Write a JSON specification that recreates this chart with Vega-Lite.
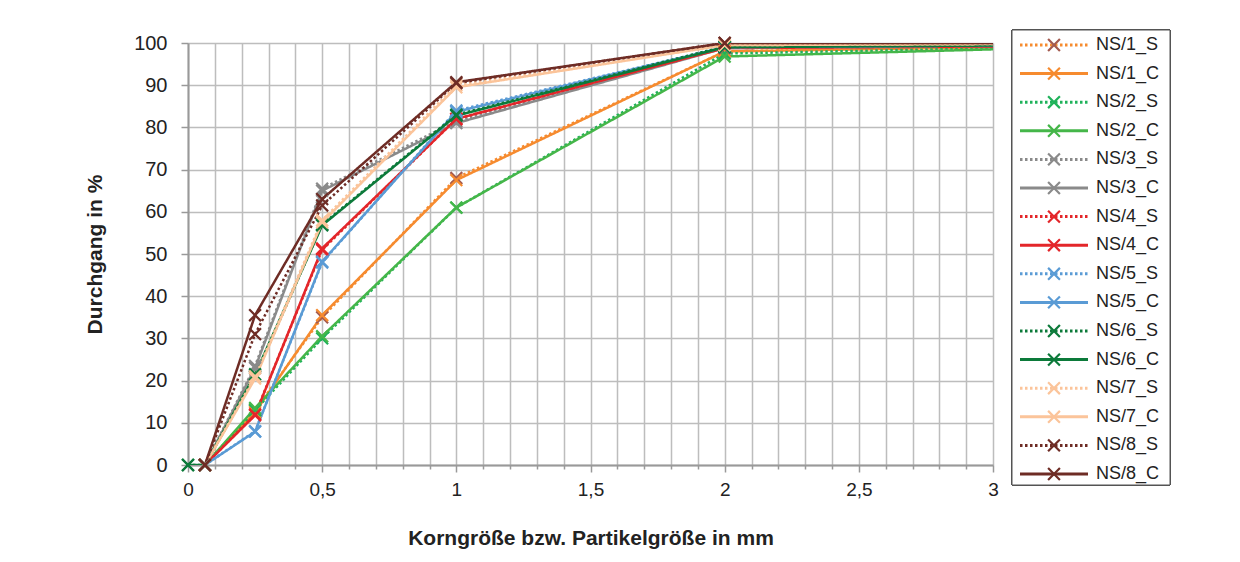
{
  "$schema": "https://vega.github.io/schema/vega-lite/v6.json",
  "width": 805,
  "height": 422,
  "autosize": {"type": "none"},
  "padding": {"left": 188, "top": 43, "right": 247, "bottom": 97},
  "background": "white",
  "config": {
    "view": {"stroke": null},
    "font": "Liberation Sans",
    "axis": {
      "labelFont": "Liberation Sans",
      "labelFontSize": 19.5,
      "labelColor": "#222222",
      "titleFont": "Liberation Sans",
      "titleFontSize": 21,
      "titleFontWeight": "bold",
      "titleColor": "#222222",
      "domainColor": "#999999",
      "domainWidth": 2,
      "tickColor": "#999999",
      "tickWidth": 1.5,
      "gridColor": "#BDBDBD",
      "gridWidth": 1.5,
      "gridOpacity": 1
    }
  },
  "datasets": {
    "sieve": [
      {"series": "NS/1_S", "x": 0.063, "y": 0}, {"series": "NS/1_S", "x": 0.25, "y": 13}, {"series": "NS/1_S", "x": 0.5, "y": 35}, {"series": "NS/1_S", "x": 1, "y": 68}, {"series": "NS/1_S", "x": 2, "y": 98}, {"series": "NS/1_S", "x": 4, "y": 100},
      {"series": "NS/1_C", "x": 0.063, "y": 0}, {"series": "NS/1_C", "x": 0.25, "y": 12.5}, {"series": "NS/1_C", "x": 0.5, "y": 35.5}, {"series": "NS/1_C", "x": 1, "y": 67.5}, {"series": "NS/1_C", "x": 2, "y": 98}, {"series": "NS/1_C", "x": 4, "y": 100},
      {"series": "NS/2_S", "x": 0.063, "y": 0}, {"series": "NS/2_S", "x": 0.25, "y": 13}, {"series": "NS/2_S", "x": 0.5, "y": 30}, {"series": "NS/2_S", "x": 1, "y": 61}, {"series": "NS/2_S", "x": 2, "y": 97.5}, {"series": "NS/2_S", "x": 4, "y": 100},
      {"series": "NS/2_C", "x": 0.063, "y": 0}, {"series": "NS/2_C", "x": 0.25, "y": 13.5}, {"series": "NS/2_C", "x": 0.5, "y": 30.5}, {"series": "NS/2_C", "x": 1, "y": 61}, {"series": "NS/2_C", "x": 2, "y": 96.8}, {"series": "NS/2_C", "x": 4, "y": 100.2},
      {"series": "NS/3_S", "x": 0.063, "y": 0}, {"series": "NS/3_S", "x": 0.25, "y": 23.5}, {"series": "NS/3_S", "x": 0.5, "y": 65.5}, {"series": "NS/3_S", "x": 1, "y": 81.5}, {"series": "NS/3_S", "x": 2, "y": 99}, {"series": "NS/3_S", "x": 4, "y": 99.8},
      {"series": "NS/3_C", "x": 0.063, "y": 0}, {"series": "NS/3_C", "x": 0.25, "y": 23}, {"series": "NS/3_C", "x": 0.5, "y": 65}, {"series": "NS/3_C", "x": 1, "y": 81}, {"series": "NS/3_C", "x": 2, "y": 98.8}, {"series": "NS/3_C", "x": 4, "y": 99.6},
      {"series": "NS/4_S", "x": 0.063, "y": 0}, {"series": "NS/4_S", "x": 0.25, "y": 12}, {"series": "NS/4_S", "x": 0.5, "y": 51}, {"series": "NS/4_S", "x": 1, "y": 82}, {"series": "NS/4_S", "x": 2, "y": 99}, {"series": "NS/4_S", "x": 4, "y": 99.8},
      {"series": "NS/4_C", "x": 0.063, "y": 0}, {"series": "NS/4_C", "x": 0.25, "y": 11.8}, {"series": "NS/4_C", "x": 0.5, "y": 51.3}, {"series": "NS/4_C", "x": 1, "y": 82}, {"series": "NS/4_C", "x": 2, "y": 98.8}, {"series": "NS/4_C", "x": 4, "y": 99.6},
      {"series": "NS/5_S", "x": 0.063, "y": 0}, {"series": "NS/5_S", "x": 0.25, "y": 8}, {"series": "NS/5_S", "x": 0.5, "y": 48}, {"series": "NS/5_S", "x": 1, "y": 84}, {"series": "NS/5_S", "x": 2, "y": 99}, {"series": "NS/5_S", "x": 4, "y": 99.8},
      {"series": "NS/5_C", "x": 0.063, "y": 0}, {"series": "NS/5_C", "x": 0.25, "y": 7.9}, {"series": "NS/5_C", "x": 0.5, "y": 48.2}, {"series": "NS/5_C", "x": 1, "y": 83.7}, {"series": "NS/5_C", "x": 2, "y": 99}, {"series": "NS/5_C", "x": 4, "y": 99.8},
      {"series": "NS/6_S", "x": 0, "y": 0}, {"series": "NS/6_S", "x": 0.063, "y": 0}, {"series": "NS/6_S", "x": 0.25, "y": 21}, {"series": "NS/6_S", "x": 0.5, "y": 57}, {"series": "NS/6_S", "x": 1, "y": 83}, {"series": "NS/6_S", "x": 2, "y": 99.2}, {"series": "NS/6_S", "x": 4, "y": 99.8},
      {"series": "NS/6_C", "x": 0, "y": 0}, {"series": "NS/6_C", "x": 0.063, "y": 0}, {"series": "NS/6_C", "x": 0.25, "y": 21.5}, {"series": "NS/6_C", "x": 0.5, "y": 56.8}, {"series": "NS/6_C", "x": 1, "y": 82.8}, {"series": "NS/6_C", "x": 2, "y": 99}, {"series": "NS/6_C", "x": 4, "y": 99.8},
      {"series": "NS/7_S", "x": 0.063, "y": 0}, {"series": "NS/7_S", "x": 0.25, "y": 21}, {"series": "NS/7_S", "x": 0.5, "y": 58}, {"series": "NS/7_S", "x": 1, "y": 90}, {"series": "NS/7_S", "x": 2, "y": 99.5}, {"series": "NS/7_S", "x": 4, "y": 100},
      {"series": "NS/7_C", "x": 0.063, "y": 0}, {"series": "NS/7_C", "x": 0.25, "y": 20.5}, {"series": "NS/7_C", "x": 0.5, "y": 57.5}, {"series": "NS/7_C", "x": 1, "y": 89.5}, {"series": "NS/7_C", "x": 2, "y": 99.5}, {"series": "NS/7_C", "x": 4, "y": 100},
      {"series": "NS/8_S", "x": 0.063, "y": 0}, {"series": "NS/8_S", "x": 0.25, "y": 31}, {"series": "NS/8_S", "x": 0.5, "y": 61.5}, {"series": "NS/8_S", "x": 1, "y": 90.5}, {"series": "NS/8_S", "x": 2, "y": 100}, {"series": "NS/8_S", "x": 4, "y": 100},
      {"series": "NS/8_C", "x": 0.063, "y": 0}, {"series": "NS/8_C", "x": 0.25, "y": 35.5}, {"series": "NS/8_C", "x": 0.5, "y": 63}, {"series": "NS/8_C", "x": 1, "y": 90.7}, {"series": "NS/8_C", "x": 2, "y": 100}, {"series": "NS/8_C", "x": 4, "y": 100}
    ],
    "names": [
      {"series": "NS/1_S"}, {"series": "NS/1_C"}, {"series": "NS/2_S"}, {"series": "NS/2_C"},
      {"series": "NS/3_S"}, {"series": "NS/3_C"}, {"series": "NS/4_S"}, {"series": "NS/4_C"},
      {"series": "NS/5_S"}, {"series": "NS/5_C"}, {"series": "NS/6_S"}, {"series": "NS/6_C"},
      {"series": "NS/7_S"}, {"series": "NS/7_C"}, {"series": "NS/8_S"}, {"series": "NS/8_C"}
    ]
  },
  "layer": [
    {
      "data": {"name": "sieve"},
      "layer": [
        {
          "mark": {"type": "line", "strokeWidth": 2.5, "clip": true, "strokeCap": "butt"},
          "encoding": {
            "x": {
              "field": "x", "type": "quantitative",
              "scale": {"domain": [0, 3], "nice": false, "zero": false},
              "axis": {
                "title": "Korngröße bzw. Partikelgröße in mm",
                "values": [0, 0.1, 0.2, 0.3, 0.4, 0.5, 0.6, 0.7, 0.8, 0.9, 1, 1.1, 1.2, 1.3, 1.4, 1.5, 1.6, 1.7, 1.8, 1.9, 2, 2.1, 2.2, 2.3, 2.4, 2.5, 2.6, 2.7, 2.8, 2.9, 3],
                "tickCount": 200,
                "labelExpr": "((datum.value * 2) % 1 == 0) ? replace(toString(datum.value), '.', ',') : ''",
                "tickSize": {"condition": {"test": "(datum.value * 2) % 1 == 0", "value": 7}, "value": 4},
                "labelFontSize": 19,
                "labelPadding": 8,
                "titlePadding": 28,
                "labelFlush": false,
                "labelOverlap": false
              }
            },
            "y": {
              "field": "y", "type": "quantitative",
              "scale": {"domain": [0, 100], "nice": false},
              "axis": {
                "title": "Durchgang in %",
                "values": [0, 10, 20, 30, 40, 50, 60, 70, 80, 90, 100],
                "tickCount": 200,
                "format": "d",
                "labelFontSize": 20,
                "tickSize": 7,
                "labelPadding": 14,
                "titlePadding": 28
              }
            },
            "color": {
              "field": "series", "type": "nominal", "legend": null,
              "scale": {
                "domain": ["NS/1_S", "NS/1_C", "NS/2_S", "NS/2_C", "NS/3_S", "NS/3_C", "NS/4_S", "NS/4_C", "NS/5_S", "NS/5_C", "NS/6_S", "NS/6_C", "NS/7_S", "NS/7_C", "NS/8_S", "NS/8_C"],
                "range": ["#F68B2F", "#F68B2F", "#1FB25A", "#45B649", "#8A8A8A", "#8A8A8A", "#E3262A", "#E3262A", "#5A9BD5", "#5A9BD5", "#0C7A3A", "#0C7A3A", "#FBC49A", "#FBC49A", "#6E2C25", "#6E2C25"]
              }
            },
            "strokeDash": {
              "field": "series", "type": "nominal", "legend": null,
              "scale": {
                "domain": ["NS/1_S", "NS/1_C", "NS/2_S", "NS/2_C", "NS/3_S", "NS/3_C", "NS/4_S", "NS/4_C", "NS/5_S", "NS/5_C", "NS/6_S", "NS/6_C", "NS/7_S", "NS/7_C", "NS/8_S", "NS/8_C"],
                "range": [[2.5, 2.5], [1, 0], [2.5, 2.5], [1, 0], [2.5, 2.5], [1, 0], [2.5, 2.5], [1, 0], [2.5, 2.5], [1, 0], [2.5, 2.5], [1, 0], [2.5, 2.5], [1, 0], [2.5, 2.5], [1, 0]]
              }
            }
          }
        },
        {
          "transform": [{"filter": "datum.x <= 3"}],
          "mark": {"type": "point", "shape": "M-1,-1L1,1M-1,1L1,-1", "filled": false, "size": 140, "strokeWidth": 2.2, "opacity": 1, "clip": false},
          "encoding": {
            "x": {"field": "x", "type": "quantitative"},
            "y": {"field": "y", "type": "quantitative"},
            "stroke": {
              "field": "series", "type": "nominal", "legend": null,
              "scale": {
                "domain": ["NS/1_S", "NS/1_C", "NS/2_S", "NS/2_C", "NS/3_S", "NS/3_C", "NS/4_S", "NS/4_C", "NS/5_S", "NS/5_C", "NS/6_S", "NS/6_C", "NS/7_S", "NS/7_C", "NS/8_S", "NS/8_C"],
                "range": ["#A35A4F", "#F68B2F", "#1FB25A", "#45B649", "#8A8A8A", "#8A8A8A", "#E3262A", "#E3262A", "#5A9BD5", "#5A9BD5", "#0C7A3A", "#0C7A3A", "#FBC49A", "#FBC49A", "#6E2C25", "#6E2C25"]
              }
            }
          }
        }
      ]
    },
    {
      "data": {"name": "names"},
      "encoding": {
        "y": {
          "field": "series", "type": "nominal", "axis": null, "sort": null,
          "scale": {"type": "point", "padding": 0, "range": [2, 431],
            "domain": ["NS/1_S", "NS/1_C", "NS/2_S", "NS/2_C", "NS/3_S", "NS/3_C", "NS/4_S", "NS/4_C", "NS/5_S", "NS/5_C", "NS/6_S", "NS/6_C", "NS/7_S", "NS/7_C", "NS/8_S", "NS/8_C"]}
        }
      },
      "layer": [
        {
          "mark": {"type": "rect", "fill": "white", "stroke": "#555555", "strokeWidth": 1, "xOffset": -8, "x2Offset": 82, "yOffset": -15, "y2Offset": 11, "clip": false},
          "encoding": {
            "x": {"datum": 0, "type": "quantitative", "axis": null, "scale": {"domain": [0, 1], "range": [832, 900]}},
            "x2": {"datum": 1},
            "y": {"datum": "NS/1_S", "type": "nominal"},
            "y2": {"datum": "NS/8_C"}
          }
        },
        {
          "mark": {"type": "rule", "strokeWidth": 3, "strokeCap": "butt"},
          "encoding": {
            "x": {"datum": 0, "type": "quantitative"},
            "x2": {"datum": 1},
            "color": {"field": "series", "type": "nominal", "legend": null},
            "strokeDash": {"field": "series", "type": "nominal", "legend": null}
          }
        },
        {
          "mark": {"type": "point", "shape": "M-1,-1L1,1M-1,1L1,-1", "filled": false, "size": 140, "strokeWidth": 2.2, "opacity": 1},
          "encoding": {
            "x": {"datum": 0.5, "type": "quantitative"},
            "stroke": {"field": "series", "type": "nominal", "legend": null}
          }
        },
        {
          "mark": {"type": "text", "align": "left", "baseline": "middle", "dx": 8, "fontSize": 18, "font": "Liberation Sans", "color": "#222222"},
          "encoding": {
            "x": {"datum": 1, "type": "quantitative"},
            "text": {"field": "series", "type": "nominal"}
          }
        }
      ]
    }
  ],
  "resolve": {"scale": {"x": "independent", "y": "independent"}}
}
